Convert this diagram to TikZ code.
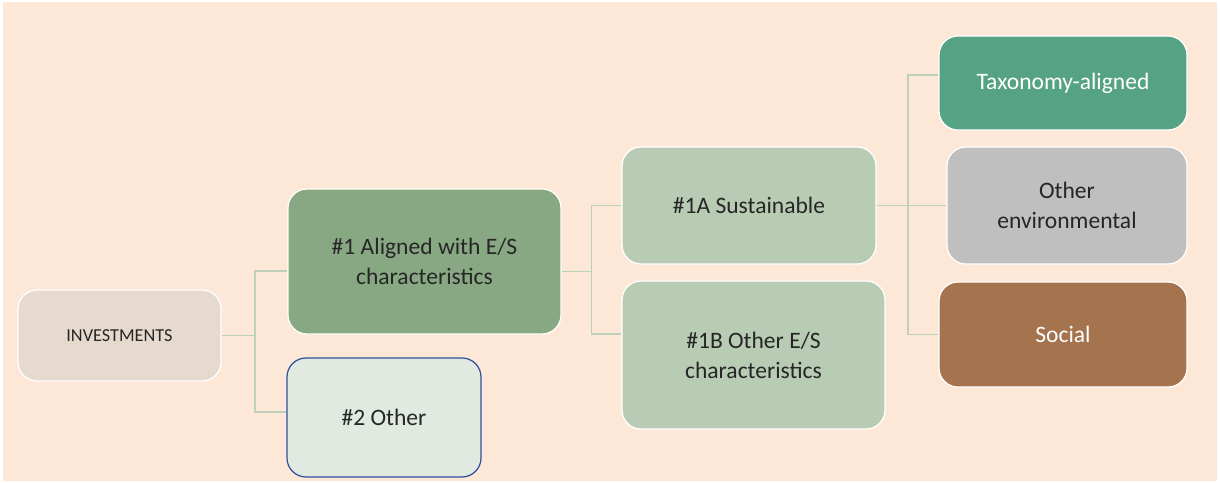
\documentclass[tikz,border=0pt]{standalone}
\usepackage{fontspec}
\setmainfont{Carlito}
\usepackage{tikz}

\definecolor{peach}{HTML}{FDE8D8}
\definecolor{invfill}{HTML}{E6D9CD}
\definecolor{alfill}{HTML}{88A883}
\definecolor{otfill}{HTML}{E0EAE1}
\definecolor{otline}{HTML}{2F4F9F}
\definecolor{susfill}{HTML}{B8CBB3}
\definecolor{taxfill}{HTML}{55A285}
\definecolor{envfill}{HTML}{BFBFBF}
\definecolor{socfill}{HTML}{A5744E}
\definecolor{linkcol}{HTML}{BCD0BA}
\definecolor{txt}{HTML}{262626}

\begin{document}
\begin{tikzpicture}[
    box/.style={rounded corners=0.38cm, draw=white, line width=0.7pt, inner sep=0pt,
        align=center, text=txt, font=\fontsize{13.4}{17}\selectfont},
    link/.style={draw=linkcol, line width=0.8pt}
]
    % Background
    \fill[white] (0,0) rectangle (24.4,-9.64);
    \fill[peach] (0.06,-0.04) rectangle (24.34,-9.62);
    \useasboundingbox (0,0) rectangle (24.4,-9.64);

    % Boxes
    \node[box, fill=invfill, minimum width=4.06cm, minimum height=1.82cm,
        font=\fontsize{10.4}{13}\selectfont] (inv) at (2.39,-6.71) {INVESTMENTS};
    \node[box, fill=alfill, minimum width=5.46cm, minimum height=2.90cm] (al) at (8.49,-5.23)
        {\#1 Aligned with E/S\\characteristics};
    \node[box, fill=otfill, draw=otline, minimum width=3.88cm, minimum height=2.38cm] (ot) at (7.68,-8.35)
        {\#2 Other};
    \node[box, fill=susfill, minimum width=5.08cm, minimum height=2.34cm] (sus) at (14.98,-4.11)
        {\#1A Sustainable};
    \node[box, fill=susfill, minimum width=5.26cm, minimum height=2.96cm] (oes) at (15.07,-7.10)
        {\#1B Other E/S\\characteristics};
    \node[box, fill=taxfill, text=white, minimum width=4.96cm, minimum height=1.88cm] (tax) at (21.26,-1.66)
        {Taxonomy-aligned};
    \node[box, fill=envfill, minimum width=4.80cm, minimum height=2.34cm] (env) at (21.34,-4.11)
        {Other\\environmental};
    \node[box, fill=socfill, text=white, minimum width=4.96cm, minimum height=2.10cm] (soc) at (21.26,-6.69)
        {Social};

    % Connectors
    \coordinate (j1) at (5.10,-6.71);
    \coordinate (j2) at (11.83,-5.43);
    \coordinate (j3) at (18.16,-4.11);
    \draw[link] (inv.east) -- (j1);
    \draw[link] (j1) |- ([yshift=-0.19cm]al.west);
    \draw[link] (j1) |- ([yshift=0.11cm]ot.west);
    \draw[link] ([yshift=-0.2cm]al.east) -- (j2);
    \draw[link] (j2) |- (sus.west);
    \draw[link] (j2) |- ([yshift=0.42cm]oes.west);
    \draw[link] (sus.east) -- (j3);
    \draw[link] (j3) |- ([yshift=0.16cm]tax.west);
    \draw[link] (j3) |- (env.west);
    \draw[link] (j3) |- (soc.west);
\end{tikzpicture}
\end{document}
